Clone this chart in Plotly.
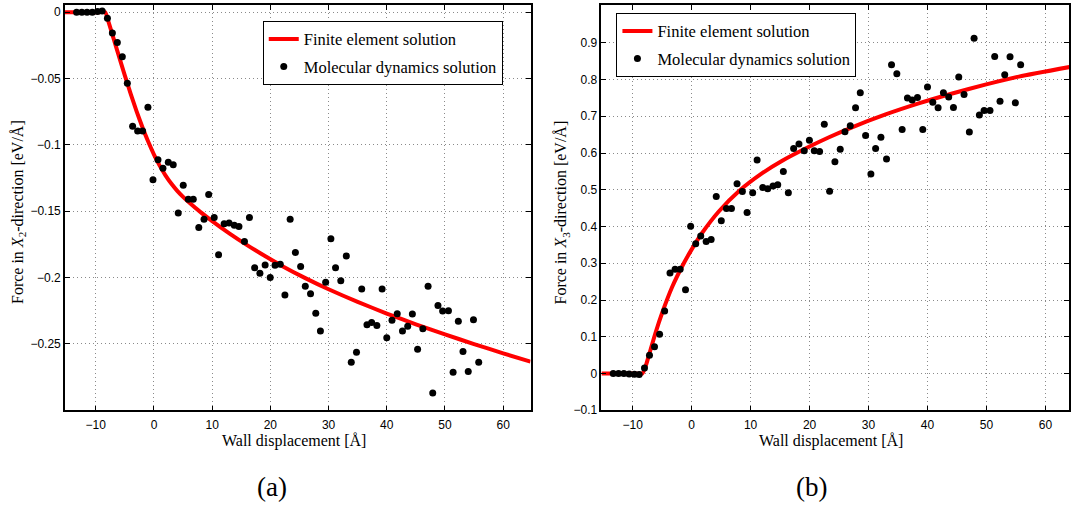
import plotly.graph_objects as go

W, H = 1071, 507

# ---------------- data ----------------
displacement = [-13.3, -12.4, -11.5, -10.6, -9.7, -8.9, -8.0, -7.15, -6.3, -5.44,
                -4.58, -3.67, -2.81, -1.95, -1.04, -0.17, 0.69, 1.54, 2.46, 3.31,
                4.17, 5.03, 5.9, 6.75, 7.7, 8.6, 9.4, 10.35, 11.1, 12.06,
                12.9, 13.8, 14.6, 15.55, 16.4, 17.3, 18.2, 19.1, 19.97, 20.8,
                21.7, 22.5, 23.4, 24.3, 25.2, 26.0, 26.9, 27.8, 28.6, 29.5,
                30.4, 31.2, 32.1, 33.05, 33.9, 34.8, 35.7, 36.6, 37.4, 38.3,
                39.2, 40.0, 40.9, 41.8, 42.7, 43.6, 44.4, 45.3, 46.2, 47.1,
                47.9, 48.8, 49.6, 50.6, 51.4, 52.3, 53.1, 54.0, 54.9, 55.8]

md_force_x2 = [0, 0, 0, 0, 0.0005, 0.001, -0.0045, -0.0156, -0.0228, -0.0335,
               -0.0536, -0.0859, -0.0896, -0.0896, -0.0717, -0.1263, -0.1112, -0.1176, -0.1131, -0.1149,
               -0.1513, -0.1305, -0.1409, -0.1409, -0.1622, -0.156, -0.1374, -0.1548, -0.1828, -0.1595,
               -0.1588, -0.1605, -0.1615, -0.1729, -0.1548, -0.1925, -0.1967, -0.1905, -0.2, -0.1908,
               -0.19, -0.2131, -0.156, -0.1811, -0.1917, -0.2066, -0.2121, -0.2269, -0.2403, -0.2036,
               -0.1707, -0.1925, -0.2024, -0.1838, -0.2639, -0.2562, -0.2086, -0.2356, -0.2339, -0.2361,
               -0.2086, -0.2453, -0.2321, -0.2272, -0.2403, -0.2366, -0.2275, -0.254, -0.2386, -0.2066,
               -0.287, -0.221, -0.2252, -0.225, -0.2714, -0.2329, -0.2557, -0.2708, -0.2317, -0.2639]

md_force_x3 = [0, 0, 0, -0.001, -0.002, -0.003, 0.015, 0.05, 0.0725, 0.107,
               0.17, 0.2735, 0.284, 0.284, 0.228, 0.401, 0.353, 0.374, 0.359, 0.365,
               0.482, 0.4155, 0.449, 0.449, 0.5166, 0.495, 0.438, 0.4916, 0.581, 0.506,
               0.503, 0.510, 0.514, 0.5496, 0.4916, 0.612, 0.6247, 0.606, 0.6346, 0.606,
               0.604, 0.678, 0.496, 0.576, 0.610, 0.658, 0.674, 0.723, 0.764, 0.648,
               0.543, 0.612, 0.643, 0.584, 0.840, 0.816, 0.664, 0.750, 0.744, 0.751,
               0.664, 0.780, 0.738, 0.723, 0.764, 0.7525, 0.724, 0.807, 0.759, 0.657,
               0.9126, 0.7035, 0.716, 0.716, 0.8625, 0.741, 0.813, 0.8617, 0.7365, 0.840]

fe_x2_disp = [-15.3, -9.5, -8.4, -7.8, -7.0, -6.0, -5.0, -4.0, -3.0, -2.0, -1.0, 0.0,
              1.0, 2.0, 3.0, 4.0, 5.0, 6.0, 8.0, 10.0, 13.0, 16.0, 19.0, 22.0,
              26.0, 30.0, 35.0, 40.0, 45.0, 50.0, 55.0, 60.0, 64.7]
fe_x2_force = [0, 0, 0, -0.0075, -0.019, -0.0335, -0.0478, -0.0615, -0.0745, -0.0865, -0.0975, -0.1073,
               -0.1158, -0.1231, -0.1293, -0.1346, -0.1392, -0.1433, -0.1507, -0.1574, -0.1668, -0.1755, -0.1836, -0.1912,
               -0.2004, -0.2088, -0.2183, -0.2271, -0.2352, -0.2428, -0.2501, -0.2571, -0.2634]

fe_x3_disp = [-15.3, -9.5, -8.37, -7.8, -7.24, -6.1, -4.98, -3.29, -1.6, -0.17, 1.8, 4.6,
              8.0, 11.97, 15.36, 19.9, 23.3, 27.2, 32.9, 38.5, 44.2, 49.8, 55.5, 64.1]
fe_x3_force = [0, 0, 0, 0.02, 0.05, 0.112, 0.166, 0.236, 0.292, 0.333, 0.383, 0.441,
               0.496, 0.545, 0.579, 0.617, 0.643, 0.67, 0.705, 0.735, 0.762, 0.786, 0.808, 0.834]

x_ticks = [-10, 0, 10, 20, 30, 40, 50, 60]
x_ticktext = ["\u221210", "0", "10", "20", "30", "40", "50", "60"]
y2_ticks = [-0.25, -0.2, -0.15, -0.1, -0.05, 0]
y2_ticktext = ["\u22120.25", "\u22120.2", "\u22120.15", "\u22120.1", "\u22120.05", "0"]
y3_ticks = [-0.1, 0, 0.1, 0.2, 0.3, 0.4, 0.5, 0.6, 0.7, 0.8, 0.9]
y3_ticktext = ["\u22120.1", "0", "0.1", "0.2", "0.3", "0.4", "0.5", "0.6", "0.7", "0.8", "0.9"]

SERIF = "Liberation Serif"
SANS = "Liberation Sans"

# ---------------- figure ----------------
fig = go.Figure()

line_style = dict(color="#ff0000", width=4, shape="spline", smoothing=0.6)
marker_style = dict(color="black", size=7)

fig.add_trace(go.Scatter(x=fe_x2_disp, y=fe_x2_force, mode="lines", line=line_style,
                         name="Finite element solution", xaxis="x", yaxis="y",
                         legend="legend", legendgroup="fe"))
fig.add_trace(go.Scatter(x=displacement, y=md_force_x2, mode="markers", marker=marker_style,
                         name="Molecular dynamics solution", xaxis="x", yaxis="y",
                         legend="legend", legendgroup="md"))
fig.add_trace(go.Scatter(x=fe_x3_disp, y=fe_x3_force, mode="lines", line=line_style,
                         name="Finite element solution", xaxis="x2", yaxis="y2",
                         legend="legend2", legendgroup="fe2"))
fig.add_trace(go.Scatter(x=displacement, y=md_force_x3, mode="markers", marker=marker_style,
                         name="Molecular dynamics solution", xaxis="x2", yaxis="y2",
                         legend="legend2", legendgroup="md2"))

def px_x(p):
    return p / W

def px_y(p):
    return 1 - p / H

axis_common = dict(showline=True, linecolor="black", linewidth=1.5, mirror="ticks",
                   ticks="inside", ticklen=5, tickwidth=1, tickcolor="black",
                   showgrid=True, gridcolor="#8a8a8a", gridwidth=1, griddash="1px,3px",
                   zeroline=False, tickfont=dict(family=SANS, size=12, color="black"))

y_dom = [px_y(416), px_y(5)]

legend_common = dict(xanchor="left", yanchor="top", bgcolor="white",
                     bordercolor="black", borderwidth=1, traceorder="grouped",
                     tracegroupgap=3, font=dict(family=SERIF, size=16.5, color="black"))

fig.update_layout(
    width=W, height=H, margin=dict(l=0, r=0, t=0, b=0),
    paper_bgcolor="white", plot_bgcolor="white",
    xaxis=dict(domain=[px_x(65), px_x(531)], range=[-15.3, 64.7], anchor="y",
               tickvals=x_ticks, ticktext=x_ticktext, ticklabelstandoff=3, **axis_common),
    yaxis=dict(domain=y_dom, range=[-0.3, 0.0055], anchor="x",
               tickvals=y2_ticks, ticktext=y2_ticktext, **axis_common),
    xaxis2=dict(domain=[px_x(602), px_x(1070)], range=[-15.3, 64.0], anchor="y2",
                tickvals=x_ticks, ticktext=x_ticktext, ticklabelstandoff=3, **axis_common),
    yaxis2=dict(domain=y_dom, range=[-0.1, 1.003], anchor="x2",
                tickvals=y3_ticks, ticktext=y3_ticktext, **axis_common),
    legend=dict(x=px_x(263), y=px_y(21), **legend_common),
    legend2=dict(x=px_x(617), y=px_y(13), **legend_common),
    showlegend=True,
)

annots = [
    dict(text="Wall displacement [\u00c5]", x=px_x(294), y=px_y(447)),
    dict(text="Wall displacement [\u00c5]", x=px_x(832), y=px_y(447)),
    dict(text="Force in <i>X</i><sub>2</sub>-direction [eV/\u00c5]", x=px_x(18), y=px_y(215), textangle=-90),
    dict(text="Force in <i>X</i><sub>3</sub>-direction [eV/\u00c5]", x=px_x(562), y=px_y(215), textangle=-90),
]
for a in annots:
    fig.add_annotation(xref="paper", yref="paper", showarrow=False,
                       xanchor="center", yanchor="middle",
                       font=dict(family=SERIF, size=16, color="black"), **a)

for lab, cx in [("(a)", 272), ("(b)", 812)]:
    fig.add_annotation(text=lab, xref="paper", yref="paper", x=px_x(cx), y=px_y(494),
                       showarrow=False, xanchor="center", yanchor="middle",
                       font=dict(family=SERIF, size=27, color="black"))

fig.write_html("out.html")
